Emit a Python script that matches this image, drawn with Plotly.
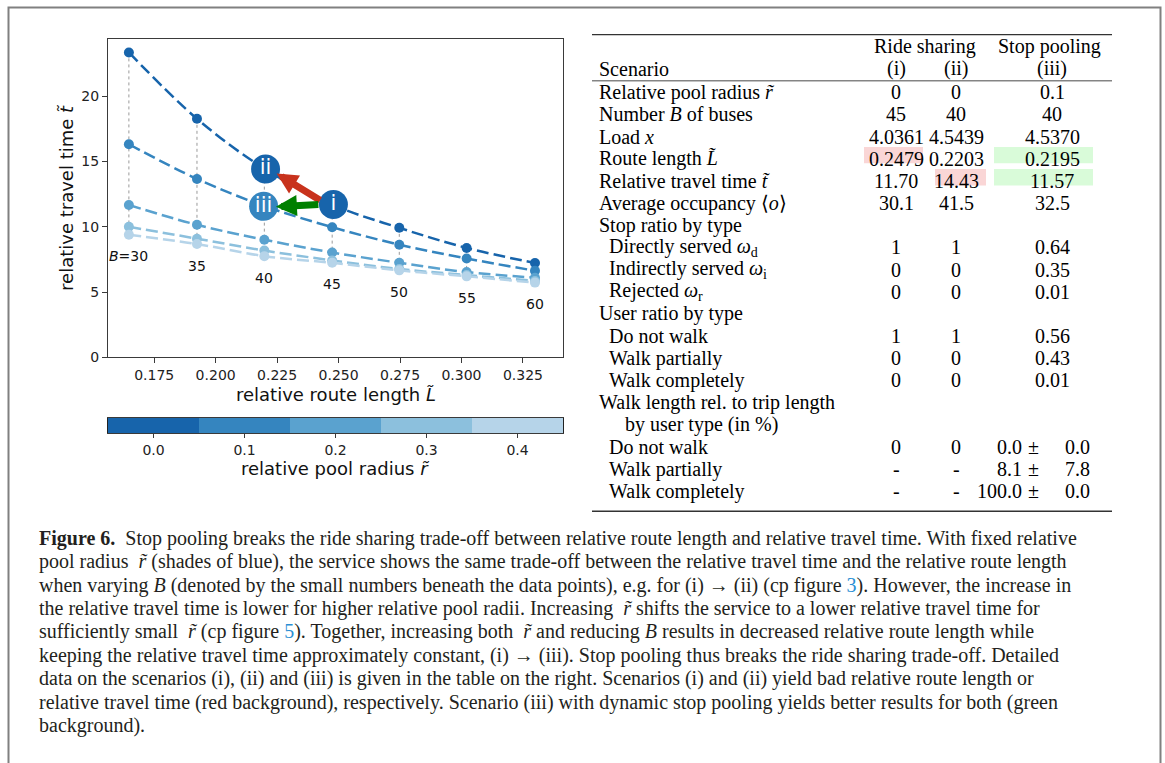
import plotly.graph_objects as go

W, H = 1165, 763

# ---------------- data ----------------
bus_counts = [30, 35, 40, 45, 50, 55, 60]
route_length = [0.1647, 0.1924, 0.2198, 0.2474, 0.2747, 0.3021, 0.3299]
pool_radii = [0.0, 0.1, 0.2, 0.3, 0.4]
travel_time_r00 = [23.37, 18.28, 14.46, 11.70, 9.92, 8.38, 7.22]
travel_time_r01 = [16.33, 13.67, 11.59, 9.97, 8.63, 7.57, 6.63]
travel_time_r02 = [11.67, 10.15, 9.01, 8.03, 7.24, 6.53, 6.10]
travel_time_r03 = [10.00, 9.09, 8.18, 7.42, 6.76, 6.30, 5.85]
travel_time_r04 = [9.39, 8.68, 7.75, 7.24, 6.66, 6.20, 5.72]
travel_times = [travel_time_r00, travel_time_r01, travel_time_r02,
                travel_time_r03, travel_time_r04]
series_colors = ['#1764ab', '#3585bf', '#5aa2cf', '#8cc0dd', '#b6d4e9']

scenario_names = ['i', 'ii', 'iii']
scenario_radius = [0, 0, 0.1]
scenario_buses = [45, 40, 40]
scenario_load = [4.0361, 4.5439, 4.5370]
scenario_route = [0.2479, 0.2203, 0.2195]
scenario_time = [11.70, 14.43, 11.57]
scenario_occupancy = [30.1, 41.5, 32.5]
stop_direct = ['1', '1', '0.64']
stop_indirect = ['0', '0', '0.35']
stop_rejected = ['0', '0', '0.01']
user_nowalk = ['1', '1', '0.56']
user_partial = ['0', '0', '0.43']
user_complete = ['0', '0', '0.01']
walk_nowalk = ['0', '0', None]
walk_partial = ['-', '-', None]
walk_complete = ['-', '-', None]
walk_mean_iii = [0.0, 8.1, 100.0]
walk_std_iii = [0.0, 7.8, 0.0]

y_ticks = [0, 5, 10, 15, 20]
x_ticks = [0.175, 0.200, 0.225, 0.250, 0.275, 0.300, 0.325]

caption_lines = [
    "<b>Figure 6.</b>\u00a0\u00a0Stop pooling breaks the ride sharing trade-off between relative route length and relative travel time. With fixed relative",
    "pool radius \u00a0<i>r\u0303</i> (shades of blue), the service shows the same trade-off between the relative travel time and the relative route length",
    "when varying <i>B</i> (denoted by the small numbers beneath the data points), e.g. for (i) \u2192 (ii) (cp figure <span style='color:#2a8fd4'>3</span>). However, the increase in",
    "the relative travel time is lower for higher relative pool radii. Increasing \u00a0<i>r\u0303</i> shifts the service to a lower relative travel time for",
    "sufficiently small \u00a0<i>r\u0303</i> (cp figure <span style='color:#2a8fd4'>5</span>). Together, increasing both \u00a0<i>r\u0303</i> and reducing <i>B</i> results in decreased relative route length while",
    "keeping the relative travel time approximately constant, (i) \u2192 (iii). Stop pooling thus breaks the ride sharing trade-off. Detailed",
    "data on the scenarios (i), (ii) and (iii) is given in the table on the right. Scenarios (i) and (ii) yield bad relative route length or",
    "relative travel time (red background), respectively. Scenario (iii) with dynamic stop pooling yields better results for both (green",
    "background).",
]

# ---------------- helpers ----------------
SANS = "DejaVu Sans"
SERIF = "Liberation Serif"


def px(x):
    return x / W


def py(y):
    return 1 - y / H


annotations = []
shapes = []


def ann(text, x, y, size, xanchor='left', color='#000', family=SERIF, angle=0):
    annotations.append(dict(text=text, x=px(x), y=py(y), xref='paper', yref='paper',
                            showarrow=False, xanchor=xanchor, yanchor='middle',
                            textangle=angle,
                            font=dict(size=size, color=color, family=family)))


fig = go.Figure()

# vertical dotted connectors between radii at equal B
for k, xb in enumerate(route_length):
    vals = [tt[k] for tt in travel_times]
    fig.add_trace(go.Scatter(x=[xb, xb], y=[max(vals), min(vals)], mode='lines',
                             line=dict(color='#9a9a9a', width=1, dash='dot'),
                             hoverinfo='skip', showlegend=False))

# dashed curves and points per pool radius
for j, tt in enumerate(travel_times):
    fig.add_trace(go.Scatter(x=route_length, y=tt, mode='lines',
                             line=dict(color=series_colors[j], width=2.5, dash='12px,5px',
                                       shape='spline', smoothing=1.0),
                             showlegend=False, hoverinfo='skip'))
for j, tt in enumerate(travel_times):
    fig.add_trace(go.Scatter(x=route_length, y=tt, mode='markers',
                             marker=dict(color=series_colors[j], size=10, line=dict(width=0)),
                             showlegend=False))

# scenario markers
scen_colors = [series_colors[pool_radii.index(r)] for r in scenario_radius]
fig.add_trace(go.Scatter(x=scenario_route, y=scenario_time, mode='markers+text',
                         text=scenario_names, textposition='middle center',
                         textfont=dict(color='white', size=21, family=SANS),
                         marker=dict(color=scen_colors, size=29, line=dict(width=0)),
                         showlegend=False))

# B labels beneath lowest points
for k, (b, xb) in enumerate(zip(bus_counts, route_length)):
    low = min(tt[k] for tt in travel_times)
    label = f"<i>B</i>={b}" if k == 0 else str(b)
    annotations.append(dict(text=label, x=xb, y=low, xref='x', yref='y', showarrow=False,
                            yshift=-21.5, xanchor='center', yanchor='middle',
                            font=dict(size=14, color='#111', family=SANS)))

# arrows (i)->(ii) red, (i)->(iii) green
annotations.append(dict(x=0.2248, y=14.08, ax=0.2431, ay=11.97, xref='x', yref='y',
                        axref='x', ayref='y', text='', showarrow=True, arrowhead=2,
                        arrowsize=0.6, arrowwidth=7, arrowcolor='#c8321c'))
annotations.append(dict(x=0.2245, y=11.54, ax=0.2424, ay=11.72, xref='x', yref='y',
                        axref='x', ayref='y', text='', showarrow=True, arrowhead=2,
                        arrowsize=0.6, arrowwidth=7, arrowcolor='#008000'))

# colorbar as heatmap
cs = [[i / (len(series_colors) - 1), c] for i, c in enumerate(series_colors)]
fig.add_trace(go.Heatmap(z=[pool_radii], x=pool_radii, y=[0], colorscale=cs,
                         zmin=min(pool_radii), zmax=max(pool_radii), showscale=False,
                         xaxis='x2', yaxis='y2', hoverinfo='skip'))

axis_common = dict(showgrid=False, zeroline=False, showline=True, mirror=True,
                   linecolor='#3a3a3a', linewidth=1, ticks='outside', ticklen=5,
                   tickcolor='#3a3a3a', tickfont=dict(family=SANS, size=14, color='#222'))

fig.update_layout(
    width=W, height=H, margin=dict(l=0, r=0, t=0, b=0),
    paper_bgcolor='white', plot_bgcolor='white', showlegend=False,
    xaxis=dict(domain=[px(108), px(563)], range=[0.1562, 0.3413], tickvals=x_ticks,
               tickformat='.3f', **axis_common),
    yaxis=dict(domain=[py(361), py(39)], range=[0, 24.43], tickvals=y_ticks, **axis_common),
    xaxis2=dict(domain=[px(108), px(563)], range=[-0.05, 0.45], tickvals=pool_radii,
                ticktext=[f"{r:.1f}" for r in pool_radii], anchor='y2',
                **{**axis_common, 'ticklen': 4}),
    yaxis2=dict(domain=[py(438), py(422)], range=[-0.5, 0.5], anchor='x2',
                showticklabels=False, ticks='', showgrid=False, zeroline=False,
                showline=True, mirror=True, linecolor='#222', linewidth=1),
)

# axis titles
ann("relative route length <i>L\u0303</i>", 335.5, 399, 18, xanchor='center', color='#111', family=SANS)
ann("relative travel time <i>t\u0303</i>", 67, 200, 18, xanchor='center', color='#111', family=SANS, angle=-90)
ann("relative pool radius <i>r\u0303</i>", 335.5, 473, 18, xanchor='center', color='#111', family=SANS)

# ---------------- table ----------------
TS = 20
col_x = [896, 956, 1052]
col_box = [(864, 923), (935, 986), (994, 1093)]
row_y0, row_dy = 93.3, 22.4


def ry(i):
    return row_y0 + row_dy * i


table_labels = [
    "Relative pool radius <i>r\u0303</i>",
    "Number <i>B</i> of buses",
    "Load <i>x</i>",
    "Route length <i>L\u0303</i>",
    "Relative travel time <i>t\u0303</i>",
    "Average occupancy \u27e8<i>o</i>\u27e9",
    "Stop ratio by type",
    "Directly served <i>\u03c9</i><sub>d</sub>",
    "Indirectly served <i>\u03c9</i><sub>i</sub>",
    "Rejected <i>\u03c9</i><sub>r</sub>",
    "User ratio by type",
    "Do not walk",
    "Walk partially",
    "Walk completely",
    "Walk length rel. to trip length",
    "by user type (in %)",
    "Do not walk",
    "Walk partially",
    "Walk completely",
]
table_indent = [0, 0, 0, 0, 0, 0, 0, 1, 1, 1, 0, 1, 1, 1, 0, 2, 1, 1, 1]
indent_x = [596.5, 607, 623]

cols = []
for c in range(3):
    cols.append([
        f"{scenario_radius[c]:g}", str(scenario_buses[c]), f"{scenario_load[c]:.4f}",
        f"{scenario_route[c]:.4f}", f"{scenario_time[c]:.2f}", f"{scenario_occupancy[c]:.1f}",
        None, stop_direct[c], stop_indirect[c], stop_rejected[c], None,
        user_nowalk[c], user_partial[c], user_complete[c], None, None,
        walk_nowalk[c], walk_partial[c], walk_complete[c],
    ])

highlight_cells = [(3, 0, '#fad6d6'), (4, 1, '#fad6d6'), (3, 2, '#d9fbd9'), (4, 2, '#d9fbd9')]
for r, c, colr in highlight_cells:
    x0, x1 = col_box[c]
    shapes.append(dict(type='rect', xref='paper', yref='paper', x0=px(x0), x1=px(x1),
                       y0=py(ry(r) + 4.5), y1=py(ry(r) - 12), fillcolor=colr,
                       line=dict(width=0), layer='below'))

# rules
for yy, lw in [(35, 1.4), (81.7, 0.9), (516.7, 1.4)]:
    shapes.append(dict(type='line', xref='paper', yref='paper', x0=px(592), x1=px(1112),
                       y0=py(yy), y1=py(yy), line=dict(color='#333', width=lw)))

ann("Ride sharing", 925, 46.5, TS, xanchor='center')
ann("Stop pooling", 1049, 46.5, TS, xanchor='center')
ann("Scenario", 596.5, 69.5, TS)
for c, name in enumerate(scenario_names):
    ann(f"({name})", col_x[c], 69.5, TS, xanchor='center')

for i, lab in enumerate(table_labels):
    ann(lab, indent_x[table_indent[i]], ry(i), TS)
    for c in range(3):
        v = cols[c][i]
        if v is not None:
            ann(v, col_x[c], ry(i), TS, xanchor='center')

for k in range(3):
    yrow = ry(16 + k)
    ann(f"{walk_mean_iii[k]:.1f}", 1024, yrow, TS, xanchor='right')
    ann("\u00b1", 1033, yrow, TS, xanchor='center')
    ann(f"{walk_std_iii[k]:.1f}", 1063, yrow, TS, xanchor='left')

# ---------------- caption ----------------
for i, line in enumerate(caption_lines):
    ann(line, 37, 544 + 23.65 * i, 20, color='#231f20')

# figure frame
shapes.append(dict(type='rect', xref='paper', yref='paper', x0=px(8.5), x1=px(1160.5),
                   y0=-0.05, y1=py(7.5), line=dict(color='#808080', width=2)))

fig.update_layout(annotations=annotations, shapes=shapes)
fig.write_html("out.html", config={'displayModeBar': False},
               post_script="document.body.style.margin='0';document.body.style.overflow='hidden';")
